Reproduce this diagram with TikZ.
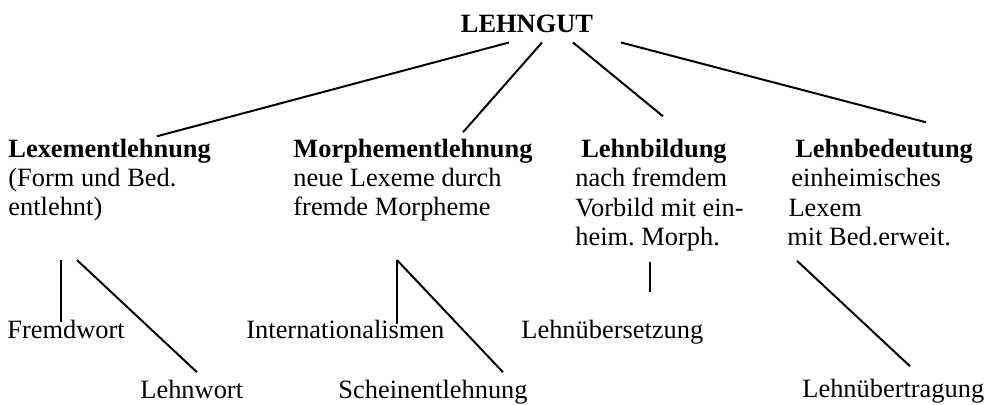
\documentclass[tikz,border=0pt]{standalone}
\usepackage{fontspec}
\setmainfont{Liberation Serif}
\frenchspacing
\usetikzlibrary{calc,positioning}

\begin{document}
\begin{tikzpicture}[x=0.4545pt, y=-0.4545pt,
  every node/.style={inner sep=0pt, font=\fontsize{12}{13.4}\selectfont},
  head/.style={anchor=base west, align=left},
  leaf/.style={anchor=base west},
  link/.style={line width=0.9pt}]
  % рамка как у образца
  \useasboundingbox (0,0) rectangle (991,405);

  % верхний уровень
  \node[anchor=base, inner ysep=4pt] (root) at (527,33) {\textbf{LEHNGUT}};

  % вторая ступень (base = последняя строка)
  \node[head] (lex) at (8,216) {\textbf{Lexementlehnung}\\(Form und Bed.\\entlehnt)};
  \node[head] (mor) at (293,216) {\textbf{Morphementlehnung}\\neue Lexeme durch\\fremde Morpheme};
  \node[head] (bil) at (575,245.5) {\hspace*{2.7pt}\textbf{Lehnbildung}\\nach fremdem\\Vorbild mit ein-\\heim. Morph.};
  \node[head] (bed) at (787,245.5) {\hspace*{3.6pt}\textbf{Lehnbedeutung}\\\hspace*{1.8pt}einheimisches\\\hspace*{0.5pt}Lexem\\mit Bed.erweit.};

  % третья ступень
  \node[leaf] (fremd) at (7,339) {Fremdwort};
  \node[leaf] (lehnw) at (140,399) {Lehnwort};
  \node[leaf] (intl) at (246,339) {Internationalismen};
  \node[leaf] (schein) at (338,399) {Scheinentlehnung};
  \node[leaf] (uebers) at (521,339) {Lehnübersetzung};
  \node[leaf] (uebertr) at (802,398) {Lehnübertragung};

  % линии сверху
  \draw[link] ($(root.south)+(-18,0)$) -- ($(lex.north west)+(149,-2)$);
  \draw[link] ($(root.south)+(15,0)$) -- ($(mor.north west)+(170,-6)$);
  \draw[link] ($(root.south)+(46,0)$) -- ($(bil.north west)+(88,-22)$);
  \draw[link] ($(root.south)+(94,0)$) -- ($(bed.north west)+(139,-16)$);

  % линии снизу
  \draw[link] ($(lex.south west)+(53,38)$) -- ($(fremd.north west)+(54,2)$);
  \draw[link] ($(lex.south west)+(69,38)$) -- ($(lehnw.north west)+(57,-8)$);
  \draw[link] ($(mor.south west)+(104,38)$) -- ($(intl.north west)+(151,4)$);
  \draw[link] ($(mor.south west)+(104,38)$) -- ($(schein.north west)+(165,-8)$);
  \draw[link] ($(bil.south west)+(75,10)$) -- ($(uebers.north west)+(129,-28)$);
  \draw[link] ($(bed.south west)+(10,14.5)$) -- ($(uebertr.north west)+(108,-13)$);
\end{tikzpicture}
\end{document}
